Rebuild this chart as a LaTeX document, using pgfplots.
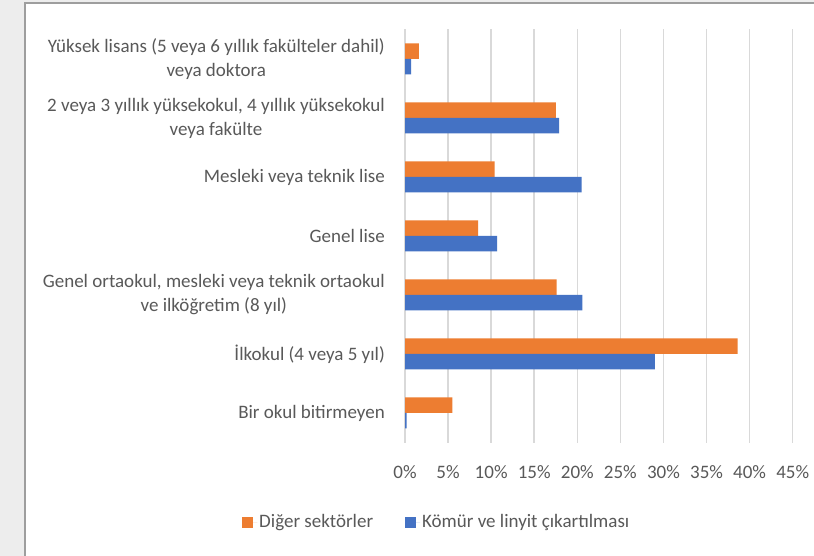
\documentclass[border=0pt]{standalone}
\usepackage{pgfplots}
\pgfplotsset{compat=1.18}
\usepackage{fontspec}
\setmainfont{Carlito}
\definecolor{dorange}{HTML}{ED7D31}
\definecolor{dblue}{HTML}{4472C4}
\definecolor{txt}{HTML}{595959}
\definecolor{grd}{HTML}{D9D9D9}
\begin{document}
\begin{tikzpicture}
\path[use as bounding box] (0,0) rectangle (814bp,556bp);
\fill[black!7] (0,0) rectangle (814bp,556bp);
\fill[white] (25bp,0) rectangle (814bp,553bp);
\draw[black!38, line width=2bp] (25bp,0) -- (25bp,553bp) -- (814bp,553bp);
\begin{axis}[
  at={(405bp,113.5bp)}, anchor=south west,
  scale only axis, width=387.7bp, height=413bp,
  xbar, bar width=15.5bp,
  xmin=0, xmax=45, ymin=-0.5, ymax=6.5,
  xtick={0,5,...,45},
  xticklabels={0\%,5\%,10\%,15\%,20\%,25\%,30\%,35\%,40\%,45\%},
  ytick={0,1,2,3,4,5,6},
  yticklabels={
    {Bir okul bitirmeyen},
    {İlkokul (4 veya 5 yıl)},
    {Genel ortaokul, mesleki veya teknik ortaokul\\ve ilköğretim (8 yıl)},
    {Genel lise},
    {Mesleki veya teknik lise},
    {2 veya 3 yıllık yüksekokul, 4 yıllık yüksekokul\\veya fakülte},
    {Yüksek lisans (5 veya 6 yıllık fakülteler dahil)\\veya doktora}},
  major tick length=0pt,
  axis line style={draw=none},
  xmajorgrids, ymajorgrids=false,
  grid style={grd, line width=1.5bp},
  tick label style={font=\fontsize{19bp}{24bp}\selectfont, text=txt},
  xticklabel style={anchor=base, inner sep=0pt, yshift=-35.5bp},
  yticklabel style={anchor=east, align=center, inner sep=0pt, xshift=-20bp},
  legend columns=2,
  legend style={at={(-0.428,-0.1925)}, anchor=west, draw=none, fill=none,
    font=\fontsize{19bp}{24bp}\selectfont, text=txt,
    /tikz/every even column/.append style={column sep=30bp}},
]
\addplot[fill=dorange, draw=none, bar shift=7.75bp,
  legend image code/.code={\fill[dorange] (0bp,-5.5bp) rectangle (10.5bp,5bp);\path (0bp,0bp) -- (15bp,0bp);}]
  coordinates {(5.5,0) (38.6,1) (17.6,2) (8.5,3) (10.4,4) (17.5,5) (1.6,6)};
\addlegendentry{Diğer sektörler}
\addplot[fill=dblue, draw=none, bar shift=-7.75bp,
  legend image code/.code={\fill[dblue] (0bp,-5.5bp) rectangle (10.5bp,5bp);\path (0bp,0bp) -- (15bp,0bp);}]
  coordinates {(0.2,0) (29.0,1) (20.6,2) (10.7,3) (20.5,4) (17.9,5) (0.7,6)};
\addlegendentry{Kömür ve linyit çıkartılması}
\end{axis}
\end{tikzpicture}
\end{document}
